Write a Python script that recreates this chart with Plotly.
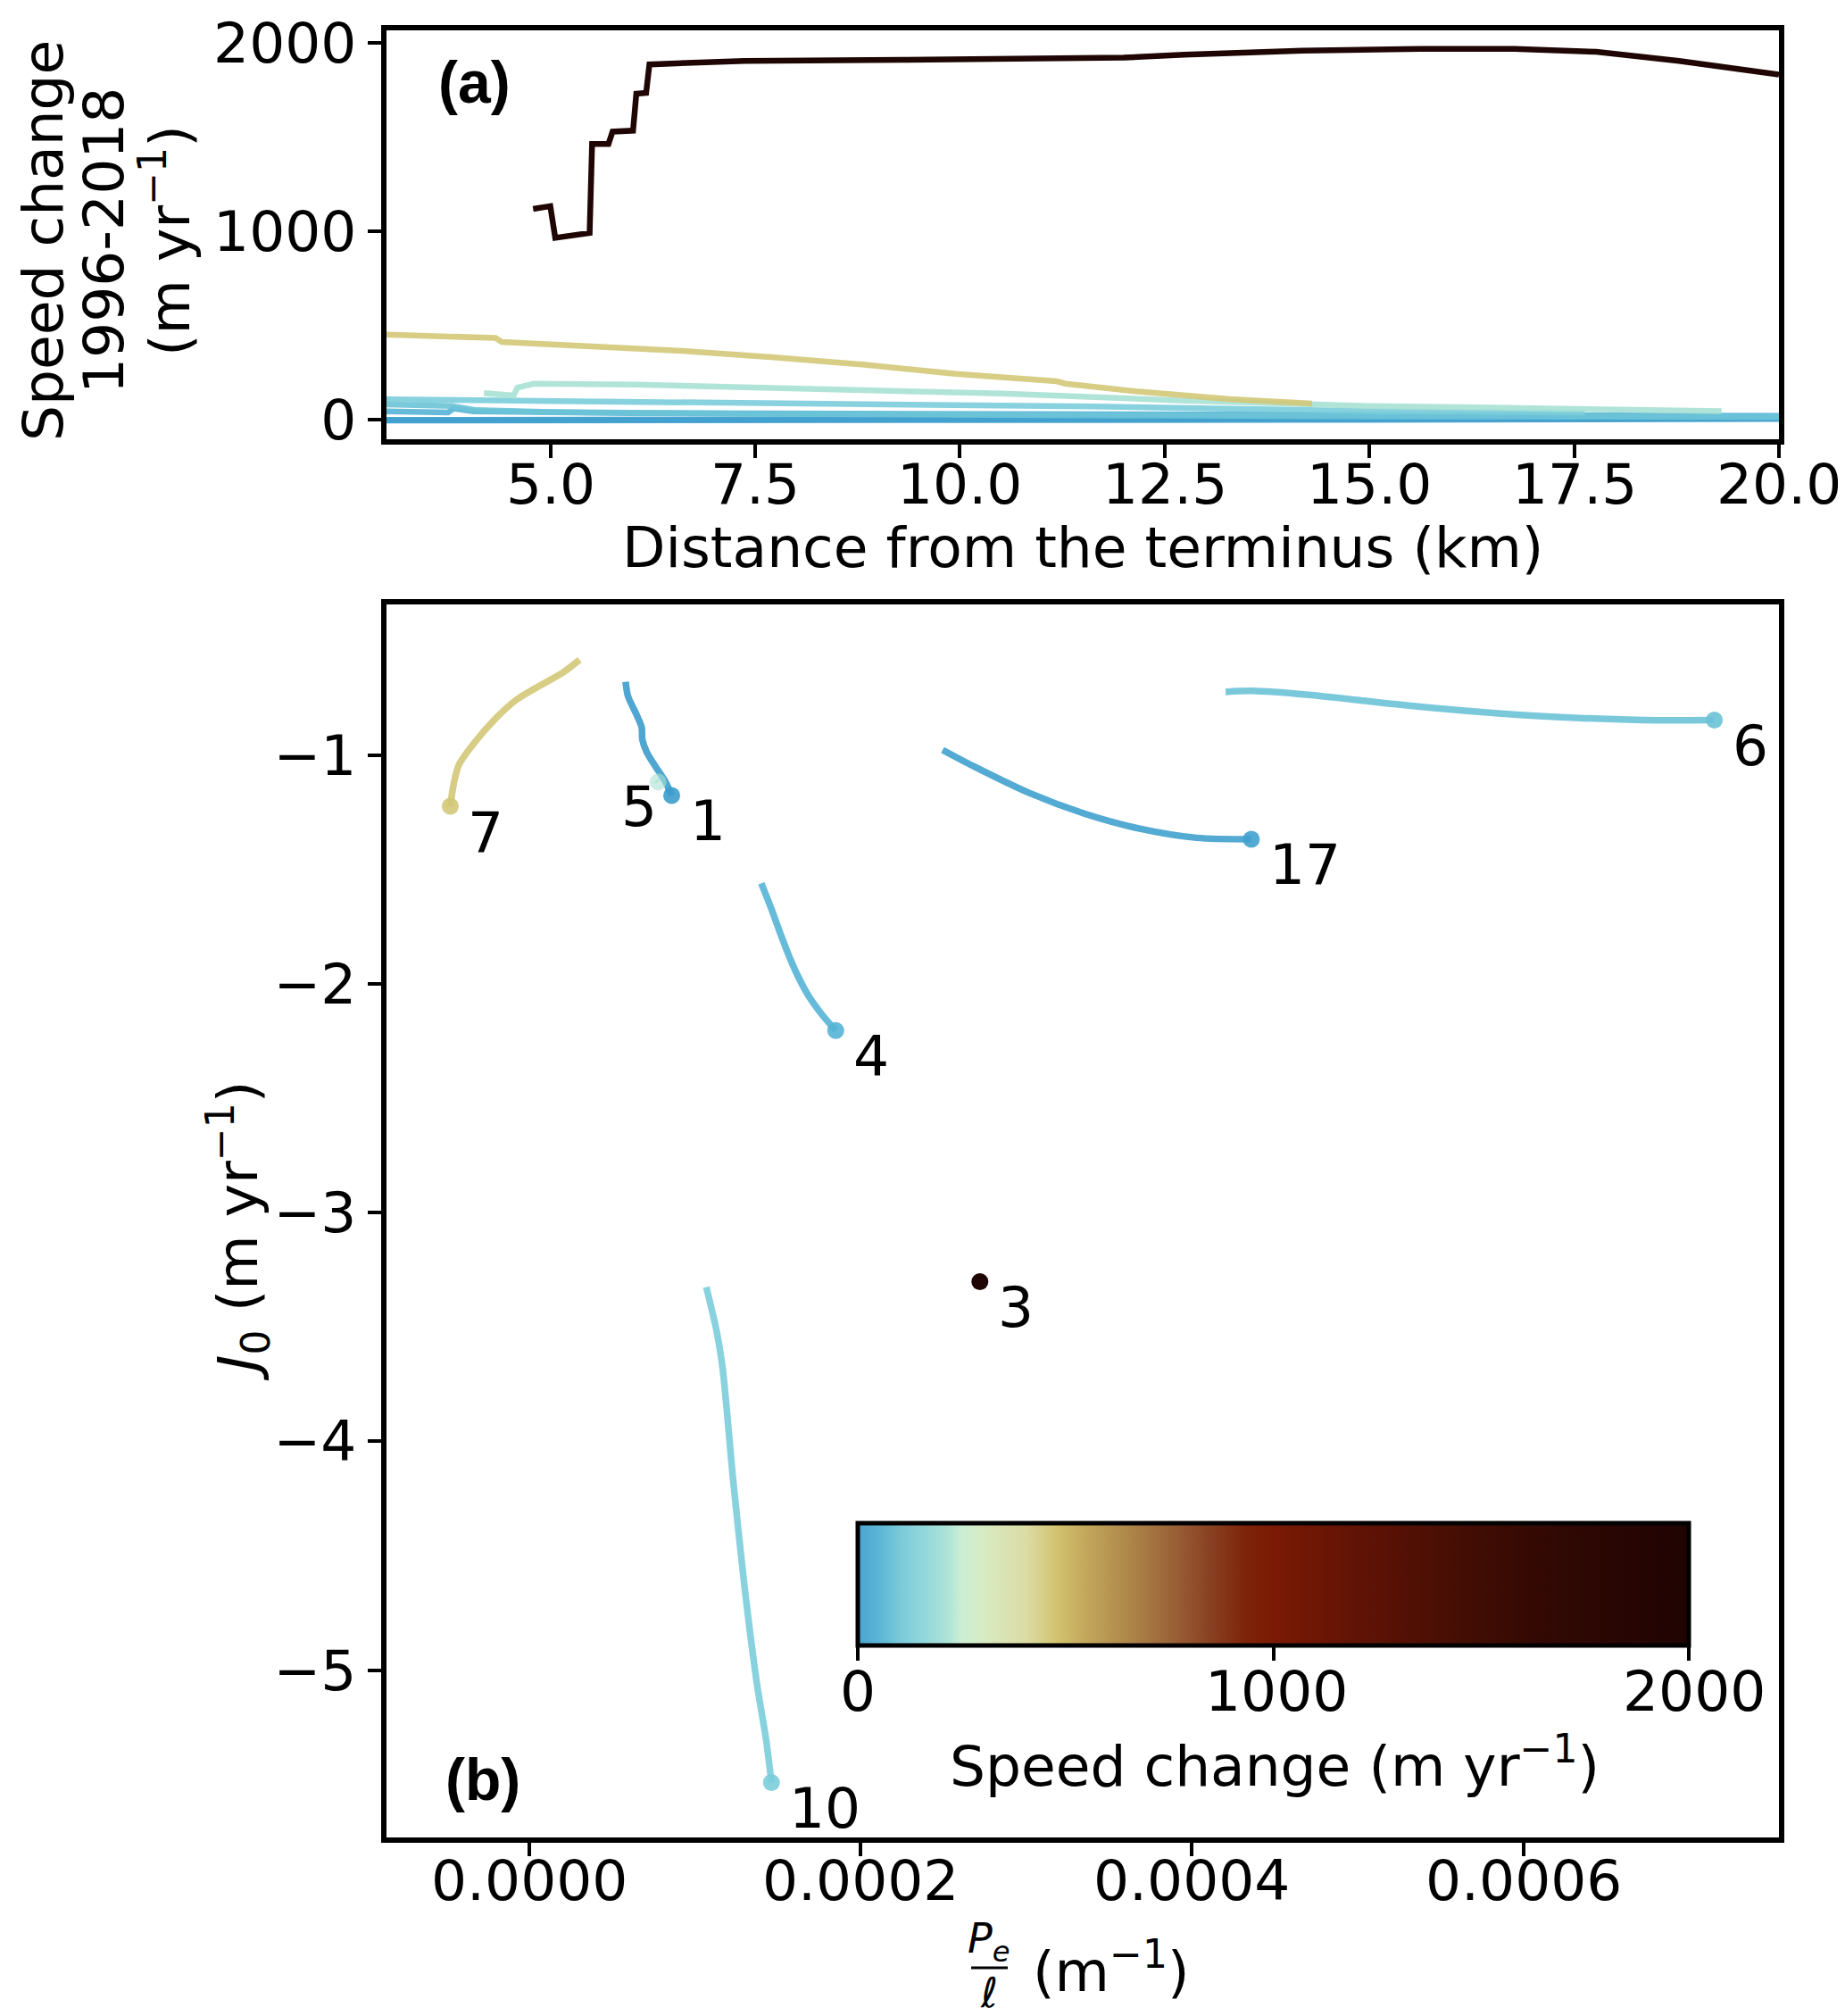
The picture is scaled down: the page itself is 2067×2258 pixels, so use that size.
import plotly.graph_objects as go

# ---------------- data ----------------
# Panel (a): speed change 1996-2018 (m/yr) vs distance from terminus (km)
a_g3_x = [4.79, 5.00, 5.06, 5.48, 5.51, 5.71, 5.76, 6.01, 6.05, 6.17, 6.21, 7.37, 9.3, 11.3, 12.0, 12.74, 14.18, 15.62, 16.77, 17.77, 18.78, 20.0]
a_g3_y = [1118, 1133, 965, 991, 1462, 1462, 1528, 1533, 1729, 1733, 1884, 1903, 1908, 1912, 1920, 1935, 1957, 1966, 1966, 1951, 1902, 1830]
a_g7_x = [3.0, 4.05, 4.33, 4.41, 5.5, 6.61, 7.73, 8.84, 9.95, 11.18, 11.29, 12.18, 13.29, 14.3]
a_g7_y = [452, 440, 434, 413, 391, 366, 331, 292, 244, 205, 192, 150, 110, 87]
a_g5_x = [4.19, 4.33, 4.55, 4.60, 4.71, 4.80, 6.06, 8.4, 10.51, 12.74, 14.96, 16.3, 17.74, 19.3]
a_g5_y = [142, 137, 129, 172, 184, 192, 187, 160, 140, 102, 74, 66, 58, 47]
a_g10_x = [3.0, 4.6, 4.64, 6.2, 6.24, 8.45, 11.62, 14.96, 17.63]
a_g10_y = [109, 102, 104, 90, 96, 85, 71, 47, 39]
a_g6_x = [3.0, 3.8, 4.1, 5.0, 7.5, 10.0, 15.0, 20.0]
a_g6_y = [82, 74, 52, 42, 32, 26, 18, 15]
a_g4_x = [3.0, 3.75, 3.82, 3.89, 4.06, 6.0, 10.0, 15.0, 20.0]
a_g4_y = [45, 39, 61, 58, 45, 36, 30, 26, 22]
a_g1_x = [3.0, 8.0, 14.0, 20.0]
a_g1_y = [-3, -3, 0, 5]
a_g17_x = [3.0, 10.0, 16.3, 20.0]
a_g17_y = [0, 2, 8, 10]

# Panel (b): J0 (m/yr) vs Pe/l (1/m) trajectories
b_g7_x = [0.0000304, 0.0000205, 0.0000040, -0.0000083, -0.0000207, -0.0000331, -0.0000424, -0.0000455, -0.0000476]
b_g7_y = [-0.584, -0.639, -0.707, -0.762, -0.844, -0.947, -1.043, -1.125, -1.224]
b_g1_x = [0.0000582, 0.0000596, 0.0000648, 0.0000679, 0.0000683, 0.0000710, 0.0000762, 0.0000823, 0.0000860]
b_g1_y = [-0.680, -0.742, -0.824, -0.879, -0.933, -0.988, -1.050, -1.118, -1.177]
b_g5_x = [0.0000770, 0.0000778]
b_g5_y = [-1.110, -1.118]
b_g4_x = [0.0001401, 0.0001462, 0.0001524, 0.0001576, 0.0001627, 0.0001689, 0.0001772, 0.0001850]
b_g4_y = [-1.561, -1.673, -1.796, -1.892, -1.974, -2.056, -2.139, -2.204]
b_g6_x = [0.0004203, 0.0004364, 0.0004701, 0.0005374, 0.0006047, 0.0006721, 0.0007152]
b_g6_y = [-0.724, -0.720, -0.737, -0.789, -0.828, -0.847, -0.847]
b_g17_x = [0.0002495, 0.0002681, 0.0003018, 0.0003354, 0.0003691, 0.0004027, 0.0004358]
b_g17_y = [-0.978, -1.049, -1.166, -1.257, -1.323, -1.362, -1.368]
b_g10_x = [0.0001069, 0.0001132, 0.0001168, 0.0001231, 0.0001303, 0.0001375, 0.0001430, 0.0001462]
b_g10_y = [-3.326, -3.521, -3.683, -4.170, -4.656, -5.062, -5.305, -5.491]
b_g3_x = [0.000272]
b_g3_y = [-3.302]

glacier_names = ["7", "1", "5", "4", "6", "17", "10", "3"]

a_xticks = [5.0, 7.5, 10.0, 12.5, 15.0, 17.5, 20.0]
a_yticks = [0, 1000, 2000]
b_xticks = [0.0, 0.0002, 0.0004, 0.0006]
b_yticks = [-5, -4, -3, -2, -1]
cbar_ticks = [0, 1000, 2000]

# ---------------- style ----------------
FONT = "DejaVu Sans"
BOLD_FONT = "Liberation Sans"
FS = 63
colors = {
    "7": "#d3c878", "1": "#3d9dcc", "5": "#a9e2d4", "4": "#55b4d5",
    "6": "#6cc4d8", "17": "#41a1ce", "10": "#7bcedb", "3": "#1f0604",
}
cscale = [
    [0.000, "#4aa3cf"], [0.026, "#5cb6d7"], [0.053, "#7ccbd9"], [0.080, "#92d7dc"],
    [0.108, "#aee3d7"], [0.125, "#cbefd6"], [0.152, "#d8ebc2"], [0.203, "#dcdba4"],
    [0.240, "#d2c36f"], [0.271, "#c4a95d"], [0.325, "#ae8749"], [0.374, "#9c6539"],
    [0.421, "#8a4324"], [0.468, "#7e2309"], [0.500, "#7a1a04"], [0.600, "#611305"],
    [0.700, "#4a0f04"], [0.800, "#360a03"], [0.900, "#2a0603"], [1.000, "#1f0402"],
]

W, H = 2067, 2258
ML, MR, MT, MB = 425, 82, 26, 208
PW = W - ML - MR
PH = H - MT - MB


def px(X):
    return (X - ML) / PW


def py(Y):
    return 1 - (Y - MT) / PH


fig = go.Figure()

# panel (a) lines
a_series = [
    ("1", a_g1_x, a_g1_y), ("17", a_g17_x, a_g17_y), ("4", a_g4_x, a_g4_y),
    ("6", a_g6_x, a_g6_y), ("10", a_g10_x, a_g10_y), ("5", a_g5_x, a_g5_y),
    ("7", a_g7_x, a_g7_y), ("3", a_g3_x, a_g3_y),
]
for name, xs, ys in a_series:
    fig.add_trace(go.Scatter(x=xs, y=ys, mode="lines", xaxis="x", yaxis="y",
                             line=dict(color=colors[name], width=6.5),
                             opacity=0.9 if name != "3" else 1.0,
                             showlegend=False, hoverinfo="skip"))

# panel (b) trajectories + end dots
b_series = [
    ("7", b_g7_x, b_g7_y), ("1", b_g1_x, b_g1_y), ("5", b_g5_x, b_g5_y),
    ("4", b_g4_x, b_g4_y), ("6", b_g6_x, b_g6_y), ("17", b_g17_x, b_g17_y),
    ("10", b_g10_x, b_g10_y), ("3", b_g3_x, b_g3_y),
]
for name, xs, ys in b_series:
    op = 0.6 if name == "5" else 0.9
    if len(xs) > 1:
        fig.add_trace(go.Scatter(x=xs, y=ys, mode="lines", xaxis="x2", yaxis="y2",
                                 line=dict(color=colors[name], width=7.5, shape="spline",
                                           smoothing=0.8),
                                 opacity=op, showlegend=False, hoverinfo="skip"))
    fig.add_trace(go.Scatter(x=[xs[-1]], y=[ys[-1]], mode="markers", xaxis="x2", yaxis="y2",
                             marker=dict(color=colors[name], size=19, line=dict(width=0)),
                             opacity=op if name != "3" else 1.0,
                             showlegend=False, hoverinfo="skip"))

# colorbar carrier (invisible)
fig.add_trace(go.Scatter(
    x=[b_g3_x[0]], y=[b_g3_y[0]], mode="markers", xaxis="x2", yaxis="y2",
    marker=dict(size=1, opacity=0, color=[0], colorscale=cscale, cmin=0, cmax=2000,
                showscale=True,
                colorbar=dict(orientation="h", x=px((950 + 1887) / 2), xanchor="center",
                              y=py(1698), yanchor="top", len=(1887 - 950) / PW - 0.004,
                              lenmode="fraction",
                              thickness=137, thicknessmode="pixels", xpad=0, ypad=0,
                              outlinewidth=5, outlinecolor="black",
                              ticks="outside", ticklen=15, tickwidth=4, tickcolor="black",
                              tickvals=cbar_ticks, showticklabels=False)),
    showlegend=False, hoverinfo="skip"))

axis_common = dict(showline=True, linewidth=6, linecolor="black", mirror=True,
                   ticks="outside", ticklen=15, tickwidth=4, tickcolor="black",
                   showgrid=False, zeroline=False,
                   tickfont=dict(family=FONT, size=FS, color="black"))

fig.update_layout(
    width=W, height=H,
    margin=dict(l=ML, r=MR, t=MT, b=MB, autoexpand=False),
    paper_bgcolor="white", plot_bgcolor="white",
    font=dict(family=FONT, size=FS, color="black"),
    xaxis=dict(domain=[0, 1], range=[3.0, 20.0], anchor="y", tickvals=a_xticks,
               showticklabels=False, **axis_common),
    yaxis=dict(domain=[py(484), 1], range=[-102.6, 2064.5], anchor="x", tickvals=a_yticks,
               ticktext=[str(v) for v in a_yticks], **axis_common),
    xaxis2=dict(domain=[0, 1], range=[-0.0000861, 0.0007542], anchor="y2", tickvals=b_xticks,
                showticklabels=False, **axis_common),
    yaxis2=dict(domain=[0, py(669)], range=[-5.731, -0.342], anchor="x2", tickvals=b_yticks,
                ticktext=["\u2212" + str(-v) for v in b_yticks], **axis_common),
)

ann = []


def paper_text(text, X, Y, size=FS, angle=0, xanchor="center", yanchor="middle", family=FONT):
    ann.append(dict(text=text, x=px(X), y=py(Y), xref="paper", yref="paper",
                    xanchor=xanchor, yanchor=yanchor, showarrow=False, textangle=angle,
                    borderpad=0, font=dict(family=family, size=size, color="black")))


# x tick labels (placed on the data axes)
for v in a_xticks:
    ann.append(dict(text=f"{v:.1f}", x=v, y=py(535), xref="x", yref="paper",
                    xanchor="center", yanchor="middle", showarrow=False, borderpad=0,
                    font=dict(family=FONT, size=FS, color="black")))
for v in b_xticks:
    ann.append(dict(text=f"{v:.4f}", x=v, y=py(2098), xref="x2", yref="paper",
                    xanchor="center", yanchor="middle", showarrow=False, borderpad=0,
                    font=dict(family=FONT, size=FS, color="black")))

# panel (a) titles
paper_text("Distance from the terminus (km)", 1205, 605)
paper_text("Speed change", 40, 262, angle=-90)
paper_text("1996-2018", 108, 262, angle=-90)
paper_text("(m yr<sup>\u22121</sup>)", 178, 262, angle=-90)
paper_text("<b>(a)</b>", 482, 84, xanchor="left", size=66, family=BOLD_FONT)

# panel (b) titles
paper_text("<i>J</i><sub>0</sub> (m yr<sup>\u22121</sup>)", 258, 1371, angle=-90)
paper_text("<b>(b)</b>", 490, 1985, xanchor="left", size=66, family=BOLD_FONT)
paper_text("<i>P</i><sub><i>e</i></sub>", 1100, 2166, size=46)
paper_text("<i>\u2113</i>", 1100, 2224, size=46)
paper_text("(m<sup>\u22121</sup>)", 1148, 2196, xanchor="left")
paper_text("Speed change (m yr<sup>\u22121</sup>)", 1420, 1966)

# colorbar tick labels
cb_x0, cb_x1 = 953, 1890
for v in cbar_ticks:
    paper_text(str(v), cb_x0 + (cb_x1 - cb_x0) * v / 2000, 1886)

# glacier labels
for name, xs, ys in b_series:
    if name == "5":
        ann.append(dict(text=name, x=xs[-1], y=ys[-1], xref="x2", yref="y2",
                        xanchor="right", yanchor="middle", xshift=0, yshift=-28,
                        showarrow=False, borderpad=0,
                        font=dict(family=FONT, size=FS, color="black")))
    else:
        ann.append(dict(text=name, x=xs[-1], y=ys[-1], xref="x2", yref="y2",
                        xanchor="left", yanchor="middle", xshift=19, yshift=-29,
                        showarrow=False, borderpad=0,
                        font=dict(family=FONT, size=FS, color="black")))

fig.update_layout(annotations=ann)
fig.add_shape(type="line", xref="paper", yref="paper",
              x0=px(1080), x1=px(1121), y0=py(2196), y1=py(2196),
              line=dict(color="black", width=3))

fig.write_html("out.html")
